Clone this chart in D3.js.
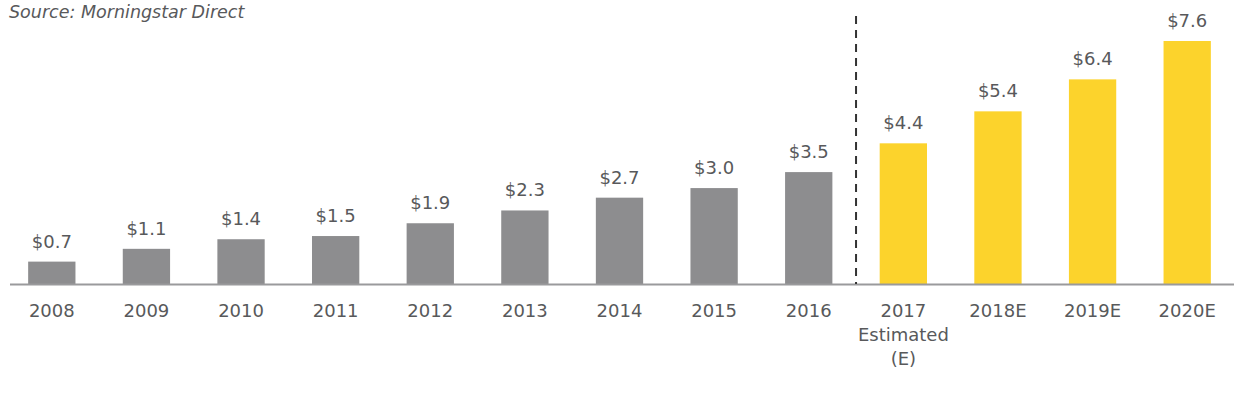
<!DOCTYPE html>
<html>
<head>
<meta charset="utf-8">
<script src="https://cdn.jsdelivr.net/npm/d3@7"></script>
<style>
  body { margin: 0; background: #fff; }
  text { font-family: "DejaVu Sans", sans-serif; }
</style>
</head>
<body>
<div id="chart"></div>
<script>
// data (US$ billions)
var years = ['2008','2009','2010','2011','2012','2013','2014','2015','2016','2017','2018E','2019E','2020E']
var values = [0.7, 1.1, 1.4, 1.5, 1.9, 2.3, 2.7, 3.0, 3.5, 4.4, 5.4, 6.4, 7.6]
var valueLabels = ['$0.7','$1.1','$1.4','$1.5','$1.9','$2.3','$2.7','$3.0','$3.5','$4.4','$5.4','$6.4','$7.6']
var estimated = [false,false,false,false,false,false,false,false,false,true,true,true,true]
var subLabels = {'2017': ['Estimated', '(E)']}

var width = 1234, height = 398
var baseY = 284

var svg = d3.select('#chart').append('svg')
  .attr('width', width)
  .attr('height', height)

var x = d3.scaleBand()
  .domain(years)
  .range([4.5, 1234.5])
  .paddingInner(0.5)
  .paddingOuter(0.25)

var y = d3.scaleLinear()
  .domain([0, 7.6])
  .range([baseY, baseY - 243])

// source line
svg.append('text')
  .attr('x', 9)
  .attr('y', 18)
  .attr('font-size', 17.5)
  .attr('font-style', 'italic')
  .attr('fill', '#58595b')
  .text('Source: Morningstar Direct')

// bars
svg.append('g').selectAll('rect')
  .data(years)
  .enter().append('rect')
    .attr('x', function (d) { return x(d) })
    .attr('width', x.bandwidth())
    .attr('y', function (d, i) { return y(values[i]) })
    .attr('height', function (d, i) { return baseY - y(values[i]) })
    .attr('fill', function (d, i) { return estimated[i] ? '#fcd32c' : '#8d8d8f' })

// baseline
svg.append('line')
  .attr('x1', 10).attr('x2', 1234)
  .attr('y1', baseY + 0.5).attr('y2', baseY + 0.5)
  .attr('stroke', '#9a9a9c')
  .attr('stroke-width', 2)

// divider between actual and estimated
var divX = (x('2016') + x.bandwidth() + x('2017')) / 2
svg.append('line')
  .attr('x1', divX).attr('x2', divX)
  .attr('y1', 16).attr('y2', baseY)
  .attr('stroke', '#333')
  .attr('stroke-width', 2)
  .attr('stroke-dasharray', '8,6')

// value labels
svg.append('g').selectAll('text')
  .data(years)
  .enter().append('text')
    .attr('x', function (d) { return x(d) + x.bandwidth() / 2 })
    .attr('y', function (d, i) { return y(values[i]) - 14 })
    .attr('text-anchor', 'middle')
    .attr('font-size', 18)
    .attr('fill', '#58595b')
    .text(function (d, i) { return valueLabels[i] })

// category labels
var cat = svg.append('g').selectAll('text')
  .data(years)
  .enter().append('text')
    .attr('x', function (d) { return x(d) + x.bandwidth() / 2 })
    .attr('y', 317)
    .attr('text-anchor', 'middle')
    .attr('font-size', 18)
    .attr('fill', '#58595b')

cat.append('tspan').text(function (d) { return d })
cat.each(function (d) {
  var extra = subLabels[d]
  if (!extra) return
  var t = d3.select(this)
  extra.forEach(function (s) {
    t.append('tspan')
      .attr('x', x(d) + x.bandwidth() / 2)
      .attr('dy', 24)
      .text(s)
  })
})
</script>
</body>
</html>
